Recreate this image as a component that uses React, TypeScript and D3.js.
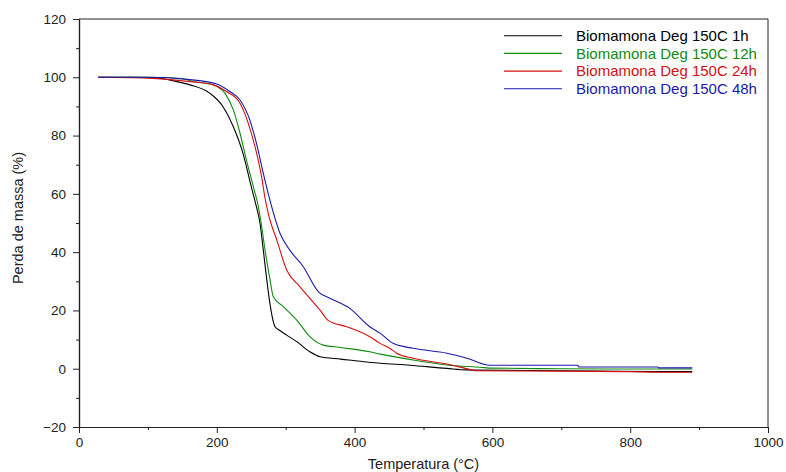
import React, { useEffect, useRef } from "react";
import * as d3 from "d3";

const WIDTH = 786;
const HEIGHT = 472;
const MARGIN = { top: 19, right: 18, bottom: 45, left: 79 };

// mass loss curves: [temperature °C, mass %]
const series1h: [number, number][] = [
  [28, 100], [80, 100], [120, 99.6], [140, 98.6], [161, 97.4], [190, 94.5], [209, 89.9],
  [224, 83], [238, 73.9], [250, 62.5], [256, 57], [262.7, 49.9], [267.5, 40.7], [272, 31.6],
  [277, 22.5], [284.5, 14.4], [291, 13.2], [301, 11.6], [316, 9.3], [335, 5.8], [350, 4.1],
  [380, 3.3], [413, 2.4], [437, 1.9], [480, 1.2], [534, 0.1], [563, -0.4], [650, -0.6],
  [750, -0.8], [850, -1.0], [890, -1.0],
];
const series12h: [number, number][] = [
  [28, 100], [100, 100], [150, 99.6], [161, 98.8], [195, 97.4], [212, 94.5], [224, 88.8],
  [233.7, 80.8], [243, 71.6], [253, 62.5], [260, 56], [265, 49], [270, 40.7], [276.5, 31.6],
  [282, 24.7], [296.5, 21.3], [316, 16.7], [335, 11], [354.6, 8.1], [379, 7.3], [422, 5.8],
  [437, 5.0], [480, 3.2], [485, 3.0], [534, 1.3], [582, 0.5], [600, 0.2], [700, 0],
  [800, -0.1], [890, -0.1],
];
const series24h: [number, number][] = [
  [28, 100], [100, 99.7], [161, 98.5], [195, 97.4], [214, 95.1], [233.7, 91.1], [245.7, 84.2],
  [255.4, 76.2], [265, 65.9], [270, 58.5], [276, 52], [287, 44.2], [301.4, 33.9], [320.8, 28.1],
  [349.8, 20.1], [362, 16.5], [388.5, 14.4], [422, 11], [437, 8.7], [451, 7.0], [461, 5.3],
  [485, 3.6], [534, 1.6], [567, -0.2], [577, -0.7], [650, -0.8], [750, -0.9], [800, -1.0],
  [850, -1.2], [890, -1.2],
];
const series48h: [number, number][] = [
  [28, 100], [100, 100], [161, 99.2], [200, 97.7], [219, 95.1], [233.7, 92.2], [248, 85.3],
  [257.6, 77.3], [267.5, 67], [277, 57.9], [284.5, 51.6], [291.7, 46.5], [306, 40.7],
  [325.5, 35], [347.5, 26.4], [364, 24.2], [393, 20.7], [422, 14.4], [437, 12.2], [456, 8.7],
  [485, 7.0], [534, 5.3], [563, 3.6], [592, 1.3], [600, 1.2], [724, 1.2], [725, 0.6],
  [840, 0.6], [841, 0.3], [890, 0.3],
];

const seriesNames = [
  "Biomamona Deg 150C 1h",
  "Biomamona Deg 150C 12h",
  "Biomamona Deg 150C 24h",
  "Biomamona Deg 150C 48h",
];
const seriesColors = ["#000000", "#108a10", "#d41010", "#1a1aa8"];
const allSeries = [series1h, series12h, series24h, series48h];

const xMajor = [0, 200, 400, 600, 800, 1000];
const xMinor = [100, 300, 500, 700, 900];
const yMajor = [-20, 0, 20, 40, 60, 80, 100, 120];
const yMinor = [-10, 10, 30, 50, 70, 90, 110];

const FONT = "'Liberation Sans', Arial, sans-serif";
const AXIS_COLOR = "#222";

const App = () => {
  const axesRef = useRef<SVGGElement>(null);

  const xScale = d3.scaleLinear().domain([0, 1000]).range([MARGIN.left, WIDTH - MARGIN.right]);
  const yScale = d3.scaleLinear().domain([-20, 120]).range([HEIGHT - MARGIN.bottom, MARGIN.top]);

  useEffect(() => {
    const g = d3.select(axesRef.current);
    g.selectAll("*").remove();
    const bottom = HEIGHT - MARGIN.bottom;

    // minor ticks first
    g.append("g")
      .attr("transform", `translate(0,${bottom})`)
      .call(d3.axisBottom(xScale).tickValues(xMinor).tickSize(3).tickSizeOuter(0).tickFormat(() => ""));
    g.append("g")
      .attr("transform", `translate(${MARGIN.left},0)`)
      .call(d3.axisLeft(yScale).tickValues(yMinor).tickSize(3).tickSizeOuter(0).tickFormat(() => ""));

    const xAxis = g.append("g")
      .attr("transform", `translate(0,${bottom})`)
      .call(d3.axisBottom(xScale).tickValues(xMajor).tickSize(6).tickSizeOuter(0).tickPadding(4).tickFormat(d3.format("d")));
    const yAxis = g.append("g")
      .attr("transform", `translate(${MARGIN.left},0)`)
      .call(d3.axisLeft(yScale).tickValues(yMajor).tickSize(6).tickSizeOuter(0).tickPadding(7).tickFormat(d3.format("d")));

    [xAxis, yAxis].forEach((a) => {
      a.selectAll("text").attr("font-family", FONT).attr("font-size", 13.5).attr("fill", AXIS_COLOR);
    });
    g.selectAll("path.domain").attr("stroke", AXIS_COLOR).attr("stroke-width", 1.2);
    g.selectAll(".tick line").attr("stroke", AXIS_COLOR);
  }, []);

  const line = d3
    .line<[number, number]>()
    .x((d) => xScale(d[0]))
    .y((d) => yScale(d[1]))
    .curve(d3.curveMonotoneX);

  return (
    <svg
      width={WIDTH}
      height={HEIGHT}
      style={{ position: "absolute", left: 0, top: 0, background: "#fff" }}
    >
      {/* frame */}
      <line x1={MARGIN.left} x2={WIDTH - MARGIN.right} y1={MARGIN.top} y2={MARGIN.top} stroke={AXIS_COLOR} />
      <line
        x1={WIDTH - MARGIN.right}
        x2={WIDTH - MARGIN.right}
        y1={MARGIN.top}
        y2={HEIGHT - MARGIN.bottom}
        stroke={AXIS_COLOR}
      />
      {allSeries.map((s, i) => (
        <path key={i} d={line(s) || ""} fill="none" stroke={seriesColors[i]} strokeWidth={1.1} />
      ))}
      <g ref={axesRef} />

      {/* legend */}
      {seriesNames.map((name, i) => {
        const y = 35.7 + i * 17.7;
        return (
          <g key={name}>
            <line x1={504} x2={562} y1={y} y2={y} stroke={seriesColors[i]} strokeWidth={1.1} />
            <text
              x={576}
              y={y}
              dy="0.35em"
              fontFamily={FONT}
              fontSize={15}
              fill={seriesColors[i]}
            >
              {name}
            </text>
          </g>
        );
      })}

      <text
        x={(MARGIN.left + WIDTH - MARGIN.right) / 2}
        y={469}
        textAnchor="middle"
        fontFamily={FONT}
        fontSize={14.5}
        fill={AXIS_COLOR}
      >
        Temperatura (°C)
      </text>
      <text
        transform={`translate(23,218) rotate(-90)`}
        textAnchor="middle"
        fontFamily={FONT}
        fontSize={14.5}
        fill={AXIS_COLOR}
      >
        Perda de massa (%)
      </text>
    </svg>
  );
};

export default App;
